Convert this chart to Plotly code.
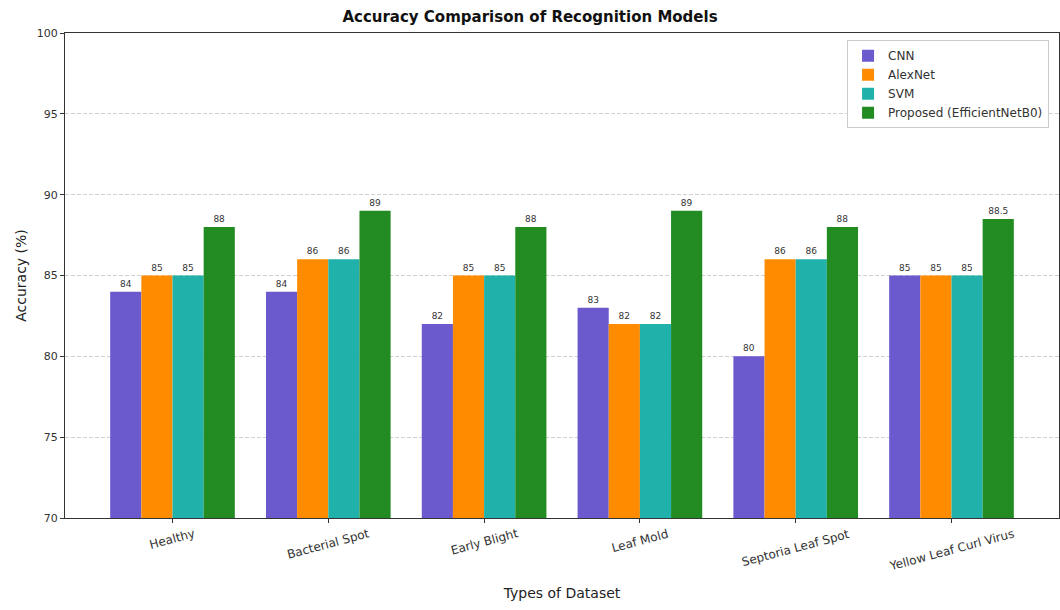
import plotly.graph_objects as go

categories = ["Healthy", "Bacterial Spot", "Early Blight", "Leaf Mold",
              "Septoria Leaf Spot", "Yellow Leaf Curl Virus"]
cnn = [84, 84, 82, 83, 80, 85]
alexnet = [85, 86, 85, 82, 86, 85]
svm = [85, 86, 85, 82, 86, 85]
proposed = [88, 89, 88, 89, 88, 88.5]

series = [
    ("CNN", cnn, "#6A5ACD"),
    ("AlexNet", alexnet, "#FF8C00"),
    ("SVM", svm, "#20B2AA"),
    ("Proposed (EfficientNetB0)", proposed, "#228B22"),
]

FONT = "DejaVu Sans"

fig = go.Figure()
for name, vals, color in series:
    fig.add_trace(go.Bar(
        x=categories, y=vals, name=name,
        marker=dict(color=color, line=dict(width=0)),
        text=vals, texttemplate="%{y}", textposition="outside",
        textfont=dict(family=FONT, size=9, color="#333333"),
        cliponaxis=False,
    ))

# Category labels, rotated and centred under each tick
for cat in categories:
    fig.add_annotation(
        x=cat, xref="x", y=0, yref="paper",
        text=cat, textangle=-15, showarrow=False,
        xanchor="center", yanchor="top", yshift=-6,
        font=dict(family=FONT, size=12, color="#333333"),
    )

fig.update_layout(
    width=1060, height=610,
    margin=dict(l=65, r=1, t=33, b=92),
    paper_bgcolor="white", plot_bgcolor="white",
    barmode="group", bargap=0.2, bargroupgap=0,
    font=dict(family=FONT, color="#222222"),
    title=dict(text="<b>Accuracy Comparison of Recognition Models</b>",
               x=0.5, xanchor="center", y=0.972, yanchor="middle",
               font=dict(family=FONT, size=15, color="#111111")),
    legend=dict(x=0.99, y=0.985, xanchor="right", yanchor="top",
                bgcolor="rgba(255,255,255,0.9)", bordercolor="#cccccc",
                borderwidth=1, font=dict(family=FONT, size=12, color="#333333"),
                itemwidth=30, tracegroupgap=3),
)

fig.update_xaxes(
    range=[-0.69, 5.69], showticklabels=False,
    ticks="outside", ticklen=4, tickcolor="#333333",
    showline=True, linecolor="#333333", linewidth=1, mirror=True,
    showgrid=False,
    title=dict(text="Types of Dataset", font=dict(family=FONT, size=14, color="#222222"),
               standoff=66),
)
fig.update_yaxes(
    range=[70, 100], dtick=5,
    tickfont=dict(family=FONT, size=11, color="#333333"),
    ticks="outside", ticklen=4, tickcolor="#333333",
    showline=True, linecolor="#333333", linewidth=1, mirror=True,
    showgrid=True, gridcolor="#d0d0d0", griddash="4px,2px", gridwidth=1,
    zeroline=False,
    title=dict(text="Accuracy (%)", font=dict(family=FONT, size=14, color="#222222"),
               standoff=6),
)

fig.write_html("out.html")
